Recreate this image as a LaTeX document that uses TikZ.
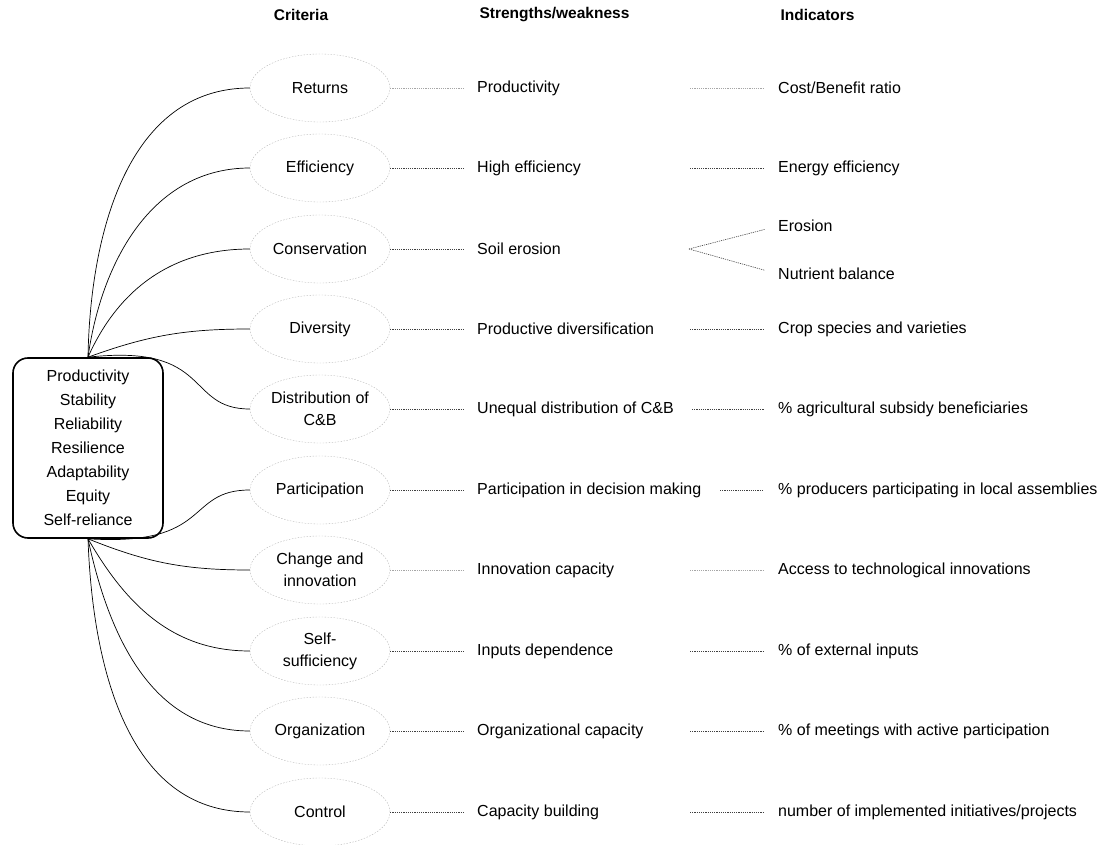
\documentclass[tikz,border=0pt]{standalone}
\usepackage{fontspec}
\setmainfont{Liberation Sans}
\usetikzlibrary{shapes.geometric}
\begin{document}
\begin{tikzpicture}[x=1pt,y=1pt,
  every node/.style={font=\fontsize{16}{22}\selectfont},
  crit/.style={ellipse,draw=gray!55,dash pattern=on 1.5pt off 1.5pt,minimum width=140pt,minimum height=68pt,inner sep=0pt,align=center},
  sw/.style={anchor=west,inner sep=0pt},
  ind/.style={anchor=west,inner sep=0pt},
  head/.style={font=\fontsize{15.5}{18}\selectfont\bfseries},
  dots/.style={draw=black!75,line width=0.6pt,dash pattern=on 1.2pt off 1pt,shorten >=14pt},
  ltdots/.style={draw=black!35,line width=0.6pt,dash pattern=on 1.2pt off 1pt,shorten >=14pt},
  link/.style={draw=black,line width=0.7pt}]
\useasboundingbox (0,0) rectangle (1104,-845);
\node[head] (hcrit) at (301,-15) {Criteria};
\node[head,anchor=west] (hsw) at (476,-15) {Strengths/weakness};
\node[head,anchor=west] (hind) at (777,-15) {Indicators};
\node[draw,line width=1.6pt,rounded corners=15pt,minimum width=150pt,minimum height=180pt,align=center,font=\fontsize{16}{24}\selectfont] (sys) at (88,-448) {Productivity\\Stability\\Reliability\\Resilience\\Adaptability\\Equity\\Self-reliance};
\node[crit] (c1) at (320,-88) {Returns};
\node[crit] (c2) at (320,-168) {Efficiency};
\node[crit] (c3) at (320,-249) {Conservation};
\node[crit] (c4) at (320,-329) {Diversity};
\node[crit] (c5) at (320,-409) {Distribution of\\C\&B};
\node[crit] (c6) at (320,-490) {Participation};
\node[crit] (c7) at (320,-570) {Change and\\innovation};
\node[crit] (c8) at (320,-651) {Self-\\sufficiency};
\node[crit] (c9) at (320,-731) {Organization};
\node[crit] (c10) at (320,-812) {Control};
\node[sw] (s1) at (477,-88) {Productivity};
\node[sw] (s2) at (477,-168) {High efficiency};
\node[sw] (s3) at (477,-249) {Soil erosion};
\node[sw] (s4) at (477,-329) {Productive diversification};
\node[sw] (s5) at (477,-409) {Unequal distribution of C\&B};
\node[sw] (s6) at (477,-490) {Participation in decision making};
\node[sw] (s7) at (477,-570) {Innovation capacity};
\node[sw] (s8) at (477,-651) {Inputs dependence};
\node[sw] (s9) at (477,-731) {Organizational capacity};
\node[sw] (s10) at (477,-812) {Capacity building};
\node[ind] (i1) at (778,-88) {Cost/Benefit ratio};
\node[ind] (i2) at (778,-168) {Energy efficiency};
\node[ind] (i3a) at (778,-226) {Erosion};
\node[ind] (i3b) at (778,-274) {Nutrient balance};
\node[ind] (i4) at (778,-329) {Crop species and varieties};
\node[ind] (i5) at (778,-409) {\% agricultural subsidy beneficiaries};
\node[ind] (i6) at (778,-490) {\% producers participating in local assemblies};
\node[ind] (i7) at (778,-570) {Access to technological innovations};
\node[ind] (i8) at (778,-651) {\% of external inputs};
\node[ind] (i9) at (778,-731) {\% of meetings with active participation};
\node[ind] (i10) at (778,-812) {number of implemented initiatives/projects};
\coordinate (b1) at (690,-88);
\coordinate (b2) at (690,-168);
\coordinate (b3) at (689,-249);
\coordinate (b4) at (690,-329);
\coordinate (b5) at (692,-409);
\coordinate (b6) at (720,-490);
\coordinate (b7) at (690,-570);
\coordinate (b8) at (690,-651);
\coordinate (b9) at (690,-731);
\coordinate (b10) at (690,-812);
\draw[link] (sys.north) to[out=89,in=180] (c1.west);
\draw[link] (sys.north) to[out=82,in=180] (c2.west);
\draw[link] (sys.north) to[out=66,in=180] (c3.west);
\draw[link] (sys.north) to[out=20,in=180] (c4.west);
\draw[link] (sys.north) .. controls +(125,14) and +(-65,0) .. (c5.west);
\draw[link] (sys.south) .. controls +(125,-8) and +(-65,0) .. (c6.west);
\draw[link] (sys.south) to[out=-22,in=180] (c7.west);
\draw[link] (sys.south) to[out=-60,in=180] (c8.west);
\draw[link] (sys.south) to[out=-78,in=180] (c9.west);
\draw[link] (sys.south) to[out=-88,in=180] (c10.west);
\draw[ltdots] (c1) -- (s1);
\draw[dots] (c2) -- (s2);
\draw[dots] (c3) -- (s3);
\draw[dots] (c4) -- (s4);
\draw[dots] (c5) -- (s5);
\draw[dots] (c6) -- (s6);
\draw[ltdots] (c7) -- (s7);
\draw[dots] (c8) -- (s8);
\draw[dots] (c9) -- (s9);
\draw[dots] (c10) -- (s10);
\draw[ltdots] (b1) -- (i1);
\draw[dots] (b2) -- (i2);
\draw[dots] (b3) -- (i3a.west);
\draw[dots] (b3) -- (i3b.west);
\draw[dots] (b4) -- (i4);
\draw[dots] (b5) -- (i5);
\draw[dots] (b6) -- (i6);
\draw[ltdots] (b7) -- (i7);
\draw[dots] (b8) -- (i8);
\draw[dots] (b9) -- (i9);
\draw[dots] (b10) -- (i10);
\end{tikzpicture}
\end{document}
